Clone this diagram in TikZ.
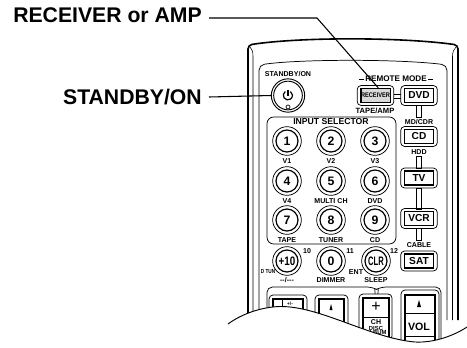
\documentclass[tikz,border=0pt]{standalone}
\usepackage{fontspec}
\setmainfont{Liberation Sans}
\begin{document}
\begin{tikzpicture}[x=0.75pt, y=-0.75pt,
  lbl/.style={font=\fontsize{5.3}{6}\selectfont\bfseries, inner sep=0pt},
  biglbl/.style={font=\fontsize{15.9}{18}\selectfont\bfseries, inner sep=0pt},
  numkey/.style={circle, draw, line width=0.9pt, minimum size=16.5pt, inner sep=0pt, font=\fontsize{9.2}{10}\selectfont\bfseries},
  keyring/.style={circle, draw, line width=0.55pt, minimum size=21.5pt, inner sep=0pt},
  modekey/.style={draw, line width=1pt, minimum width=22pt, minimum height=10.5pt, inner sep=0pt, font=\fontsize{7.6}{8}\selectfont\bfseries},
  modering/.style={draw, rounded corners=3pt, line width=0.55pt, minimum width=27.5pt, minimum height=15pt, inner sep=0pt},
  panel/.style={line width=0.55pt, rounded corners=4pt},
  leader/.style={line width=0.8pt}]
\useasboundingbox (0,0) rectangle (467,347);
% body
\draw[line width=1.2pt, rounded corners=3pt] (248,320) -- (248,45) .. controls (300,37) and (400,37) .. (458,45) -- (458,320);
\draw[line width=0.4pt] (250,47) .. controls (252,49) and (253,52) .. (253,56) -- (253,320);
\draw[line width=0.4pt] (456,47) .. controls (454,49) and (452.5,52) .. (452.5,56) -- (452.5,320);
\draw[panel] (259,320) -- (259,65) .. controls (300,59) and (400,59) .. (447,65) -- (447,320);
% standby
\node[lbl] at (288,74) {STANDBY/ON};
\node[circle, draw, line width=0.7pt, minimum size=25pt] (powerring) at (288,95.5) {};
\node[circle, draw, line width=0.7pt, minimum size=21.5pt] (powerkey) at (288,95.5) {};
\draw[line width=1pt] (288,89.5) -- (288,95.5);
\draw[line width=0.9pt] (285.3,91.5) arc (236:-56:4.6);
\node[circle, draw, fill=white, line width=0.5pt, minimum size=3pt, inner sep=0pt] at (288,107) {};
% mode keys
\node[lbl, fill=white, inner xsep=1pt, font=\fontsize{6.1}{7}\selectfont\bfseries] (modelbl) at (396,79) {REMOTE MODE};
\draw[line width=0.5pt] (modelbl.west) -- ++(-5,0);
\draw[line width=0.5pt] (modelbl.east) -- ++(5,0);
\node[lbl, font=\fontsize{5.7}{6}\selectfont\bfseries] at (375,111) {TAPE/AMP};
\foreach \name/\txt/\cy in {dvd/DVD/95.5, cd/CD/136.5, tv/TV/178, vcr/VCR/218.5, sat/SAT/261}{
  \node[modering] (\name ring) at (419,\cy) {};
  \node[modekey] (\name) at (419,\cy) {\txt};
}
\node[modering] (recring) at (375.5,95.5) {};
\node[modekey, fill=black!15, font=\fontsize{5}{6}\selectfont\bfseries] (receiver) at (375.5,95.5) {\scalebox{0.85}[1]{RECEIVER}};
\draw[line width=0.5pt] (394,94) -- (401,94) (394,98) -- (401,98);
\node[lbl] (mdcdr) at (419,122) {MD/CDR};
\node[lbl] (hdd) at (419,152) {HDD};
\node[lbl] (cable) at (419,245) {CABLE};
\draw[line width=0.5pt] (416.5,105) rectangle (421.5,117);
\draw[line width=0.5pt] (416.5,156) rectangle (421.5,168);
\draw[line width=0.5pt] (416.5,188) rectangle (421.5,209);
\draw[line width=0.5pt] (416.5,228) rectangle (421.5,240);
% input selector
\draw[panel, rounded corners=5pt] (267,117) -- (396,117) -- (396,244) -- (267,244) -- cycle;
\node[lbl, font=\fontsize{6.5}{7}\selectfont\bfseries] at (331,122) {INPUT SELECTOR};
\foreach \cx/\cy/\num/\txt in {287/141/1/V1, 331/141/2/V2, 375/141/3/V3,
  287/181/4/V4, 331/181/5/MULTI CH, 375/181/6/DVD,
  287/220/7/TAPE, 331/220/8/TUNER, 375/220/9/CD}{
  \node[keyring] at (\cx,\cy) {};
  \node[numkey] (key\num) at (\cx,\cy) {\num};
  \node[lbl, fill=white, inner xsep=1pt] at (\cx,\cy+20) {\txt};
}
\foreach \cx/\num/\txt in {287/{\scalebox{0.8}[1]{+10}}/{\mbox{-{}-/-{}-{}-}}, 331/0/DIMMER, 376/{\scalebox{0.62}[1]{CLR}}/SLEEP}{
  \node[keyring] at (\cx,261) {};
  \node[numkey] at (\cx,261) {\num};
  \node[lbl] at (\cx,280) {\txt};
}
\node[lbl] at (307,251) {10};
\node[lbl] at (350,251) {11};
\node[lbl] at (394,251) {12};
\node[lbl, font=\fontsize{4.4}{5}\selectfont\bfseries] at (268,272) {\scalebox{0.8}[1]{D TUN}};
\node[lbl] at (356,272) {ENT};
% lower keys
\draw[panel] (267,330) -- (267,287) -- (372,287) .. controls (374,288) and (375,290) .. (375,294);
\draw[panel] (378,294) .. controls (378,290) and (379,288) .. (381,287) -- (441,287) -- (441,345);
\draw[line width=0.55pt, rounded corners=3pt] (269,330) rectangle (307,295);
\draw[line width=1pt] (273,330) rectangle (303,299);
\draw[line width=0.4pt] (282,299) -- (282,306);
\node[lbl, font=\fontsize{3.6}{4}\selectfont\bfseries] at (290,303.5) {+/-};
\draw[line width=0.55pt, rounded corners=3pt] (315,330) rectangle (348,295);
\draw[line width=1pt] (319,330) rectangle (344,299);
\fill (331,304) -- (332.5,310) -- (329.5,310) -- cycle;
\draw[line width=0.55pt, rounded corners=3pt] (359,340) rectangle (392,294);
\draw[line width=1pt] (363,340) rectangle (389,298);
\draw[line width=0.5pt] (363,317) -- (389,317);
\node[font=\fontsize{12}{12}\selectfont] at (376,307) {+};
\node[lbl] at (376,322) {CH};
\node[lbl, font=\fontsize{4.4}{5}\selectfont\bfseries] at (376,328) {DISC};
\node[lbl, font=\fontsize{4.4}{5}\selectfont\bfseries] at (376,333) {ALBUM};
\draw[line width=0.55pt, rounded corners=3pt] (401,345) rectangle (439,290);
\draw[line width=1pt] (405,345) rectangle (435,295);
\fill (419,300) -- (421,307) -- (417,307) -- cycle;
\draw[line width=0.5pt] (405,313) -- (435,313) (405,336) -- (435,336);
\node[font=\fontsize{8}{9}\selectfont\bfseries, inner sep=0pt] at (419,327) {VOL};
% cut edge
\fill[white] (228,324) .. controls (240,315) and (260,307) .. (280,306.5) .. controls (320,306) and (370,338) .. (415,342) .. controls (435,343) and (455,335) .. (467,327) -- (467,347) -- (228,347) -- cycle;
\draw[line width=0.7pt] (228,324) .. controls (240,315) and (260,307) .. (280,306.5) .. controls (320,306) and (370,338) .. (415,342) .. controls (435,343) and (455,335) .. (467,327);
% callouts
\node[biglbl, anchor=east] (recvlabel) at (202,15) {RECEIVER or AMP};
\node[biglbl, anchor=east] (standbylabel) at (202,97.5) {STANDBY/ON};
\coordinate (recvstart) at (209,18);
\coordinate (recvbend) at (317,18);
\coordinate (standbystart) at (209,97);
\draw[leader] (recvstart) -- (recvbend) -- (receiver.70);
\draw[leader] (standbystart) -- (powerring.west);
\end{tikzpicture}
\end{document}
